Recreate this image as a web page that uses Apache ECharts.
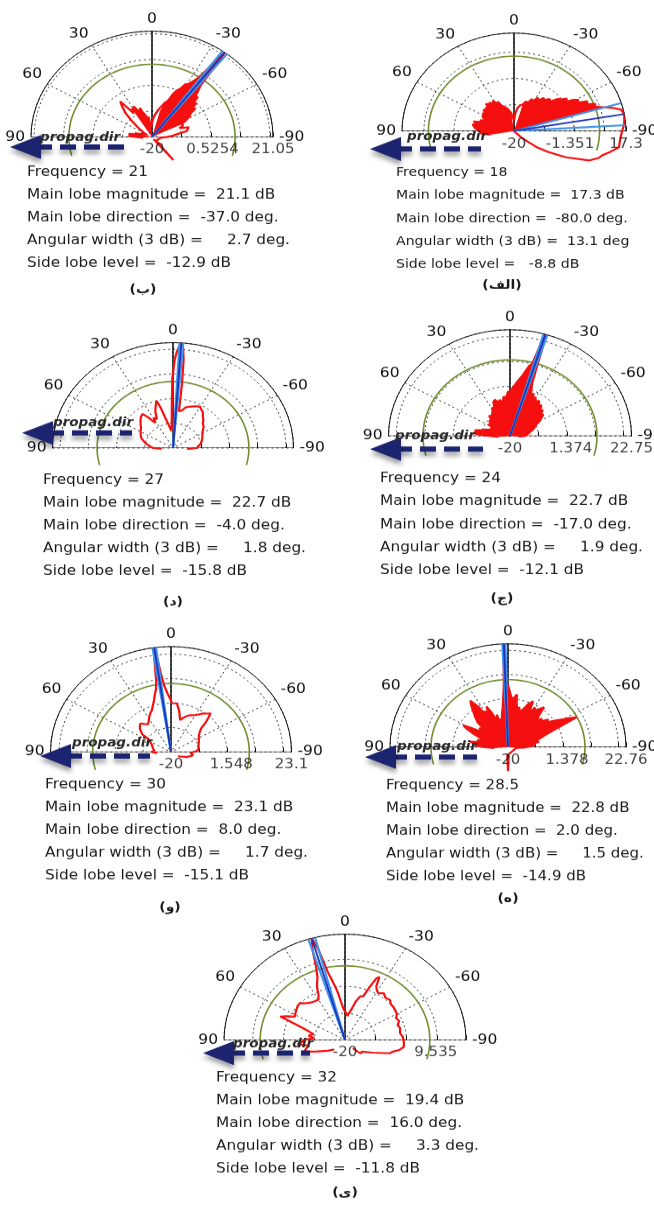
<!DOCTYPE html>
<html>
<head>
<meta charset="utf-8">
<script src="https://cdn.jsdelivr.net/npm/echarts@6.0.0/dist/echarts.min.js"></script>
<style>
html,body{margin:0;padding:0;background:#fff;overflow:hidden;}
#wrap{width:654px;height:1206px;overflow:hidden;position:relative;}
#chart{width:654px;height:1379px;transform:scaleY(0.875);transform-origin:0 0;}
</style>
</head>
<body>
<div id="wrap"><div id="chart"></div></div>
<script>
// ---------------- DATA ----------------
const tags       = ['الف', 'ب', 'ج', 'د', 'ه', 'و', 'ی'];
const frequency  = [18, 21, 24, 27, 28.5, 30, 32];
const mainMag    = [17.3, 21.1, 22.7, 22.7, 22.8, 23.1, 19.4];
const mainDir    = [-80.0, -37.0, -17.0, -4.0, 2.0, 8.0, 16.0];
const beamWidth  = [13.1, 2.7, 1.9, 1.8, 1.5, 1.7, 3.3];
const sideLobe   = [-8.8, -12.9, -12.1, -15.8, -14.9, -15.1, -11.8];
const radMin     = -20;
const radMax     = [17.3, 21.05, 22.75, 22.7, 22.76, 23.1, 19.38];
const radLabels  = [[-20, -1.351, 17.3], [-20, 0.5254, 21.05], [-20, 1.374, 22.75], [], [-20, 1.378, 22.76], [-20, 1.548, 23.1], [-20, 9.535]];

// patterns: [angle (deg), level (dB)]
const patAlef = [[100,-12],[95,-9],[90,-8.5],[85,-7],[80,-6],[77,-7.5],[75,-6],[72,-9],[70,-8],[67,-10],[65,-9],[62,-8],[60,-9],[57,-7.5],[55,-9],[52,-7],[50,-8],[47,-7],[45,-8.5],[42,-6],[40,-7],[37,-6.5],[34,-7.5],[31,-6.5],[28,-9],[26,-7.5],[24,-9],[21,-10],[18,-9.5],[15,-11],[12,-12],[8,-13],[4,-15],[0,-16],[-4,-13],[-8,-11],[-12,-10],[-16,-9.5],[-20,-8],[-23,-8.5],[-26,-6.5],[-29,-7],[-32,-5],[-35,-6],[-38,-4],[-41,-4.5],[-44,-3],[-47,-3.5],[-50,-1],[-53,0],[-55,1.5],[-57,0.5],[-59,3],[-61,4.5],[-63,3.5],[-65,7],[-67,6],[-69,9],[-71,8.5],[-73,11],[-75,14],[-77,16.5],[-80,17.3],[-83,17],[-86,16.8],[-90,16],[-95,15.5],[-100,15.5],[-104,13],[-107,11],[-110,10],[-114,7.5],[-120,0],[-125,-6],[-129,-10],[-135,-16],[-140,-20]];
const patB = [[95,-17],[90,-15],[87,-12],[84,-13.5],[81,-12],[78,-15],[75,-14],[72,-17],[68,-16],[64,-18],[60,-17],[56,-16],[52,-14],[48,-11],[44,-7],[40,-4],[38,-2.5],[36,-6],[34,-9],[32,-7],[30,-8.5],[28,-6.5],[26,-8],[24,-7.5],[22,-9.5],[20,-8],[18,-10],[15,-11],[12,-13],[9,-12],[6,-15],[3,-16],[0,-14.5],[-3,-13],[-6,-11.5],[-9,-12],[-12,-9],[-15,-9.5],[-18,-6],[-21,-5],[-23,-2],[-25,0],[-27,1],[-29,3.5],[-31,4],[-33,6],[-34.5,8],[-35.5,12],[-36.3,18],[-37,21.05],[-37.7,18],[-38.5,11],[-39.5,6],[-41,4],[-43,1.5],[-45,2],[-47,-1],[-49,0],[-51,-3],[-53,-1.5],[-55,-4],[-58,-5],[-61,-7],[-64,-9],[-67,-8.5],[-70,-10],[-73,-7],[-76,-6.5],[-79,-8],[-82,-11],[-86,-13],[-90,-15],[-95,-17],[-135,-18],[-141,-8.5],[-147,-19]];
const patJ = [[95,-16],[90,-13],[87,-9],[85,-7],[82,-8],[79,-7.5],[76,-10],[73,-11],[70,-12.5],[66,-12],[62,-13],[58,-11],[54,-12],[50,-10.5],[46,-11],[42,-9],[38,-10],[35,-9],[32,-8.5],[29,-7],[26,-7.5],[23,-5],[20,-4.5],[17,-6],[14,-5],[11,-6.5],[8,-4],[5,-4.5],[2,-2],[0,-3],[-2,-1],[-4,0],[-6,1.5],[-8,3],[-10,4.5],[-12,7],[-13.5,9],[-15,10],[-16,16],[-17,22.75],[-18,16],[-19,8],[-20,3],[-22,0],[-24,-2],[-26,-1],[-28,-3],[-30,-2],[-33,-3.5],[-36,-2.5],[-39,-4],[-42,-3.5],[-45,-5],[-48,-4.5],[-51,-6],[-54,-5.5],[-57,-7],[-60,-8],[-63,-9.5],[-66,-9],[-70,-11],[-74,-12],[-78,-13],[-82,-12.5],[-86,-14],[-90,-15],[-95,-17]];
const patD = [[95,-16],[90,-13],[86,-12],[82,-11],[78,-10],[74,-9],[70,-8],[66,-7.5],[62,-7],[58,-6.5],[54,-6],[50,-5],[46,-4],[42,-3],[38,-2.5],[35,-5],[32,-8],[29,-6],[26,-7],[23,-4],[20,-2],[17,0],[15,-3],[13,-7],[10,-10],[7,-12],[5,-13],[3,-11],[1.5,-4],[0.5,8],[-1,16],[-2,19],[-3,21],[-4,22.7],[-5,21],[-6,16],[-7,6],[-8,-5],[-10,-5],[-12,-4.4],[-15,-3],[-18,-2.5],[-21,-2],[-24,-1.5],[-27,-1],[-30,-0.8],[-33,-1.5],[-36,-2],[-40,-3.5],[-44,-4.5],[-47,-5.6],[-51,-6],[-55,-7],[-60,-8],[-65,-8.5],[-70,-9],[-75,-9.5],[-80,-10],[-85,-11],[-90,-11.5],[-95,-15]];
const patH = [[95,-15],[90,-11],[87,-8],[84,-10],[81,-6],[78,-10],[75,-8.5],[72,-11],[69,-9],[66,-6],[63,-3],[61,-1.5],[59,-5],[56,-9],[53,-7],[50,-9],[47,-5],[44,-3],[41,-1],[38,1.5],[35.5,3.5],[33,0],[31,-4],[29,-3],[27,-5],[25,-1.5],[23,-4],[21,-7],[19,-9],[17,-6],[15,-10],[13,-8],[11,-9],[9,-6],[7,-4],[5,0],[3.5,5],[2.6,14],[2,22.76],[1.4,14],[0.5,6],[-1,4],[-3,1],[-5,0],[-7,1],[-8.4,2],[-10,-2],[-12,-4],[-14,-3],[-16,-5],[-18,-4],[-20,-3],[-22,-1],[-24,0],[-25.6,1],[-27,-2],[-29,-3.5],[-31,-1],[-33,-2],[-35,-1],[-37,0],[-38.5,1],[-40,-2],[-42,-4],[-44,-5],[-46,-3],[-48,-4],[-50,-3],[-52,-1.5],[-54,-3],[-56,-1],[-58,1],[-60,3],[-62,5.5],[-63.6,7.8],[-65,3],[-67,-2],[-70,-6],[-73,-8],[-76,-10],[-79,-8.5],[-82,-11],[-85,-10],[-88,-12],[-92,-14],[-97,-17],[-175,-17],[-180,-10],[175,-17]];
const patV = [[95,-15],[90,-13],[84,-14],[78,-13.5],[72,-13],[66,-12.5],[61,-11.5],[57,-11],[55,-7.5],[50,-5.5],[46,-4.5],[43,-4],[40,-5],[36,-6],[32,-5],[28,-3.5],[25,-2.5],[22,-1.7],[19,0],[16,2],[14,4],[12,6],[10.5,9],[9.5,14],[8.8,19],[8,23.1],[7.2,18],[6.4,12],[5,7],[3,4],[1,2],[-1,0],[-3,-0.5],[-6,0],[-8,-0.3],[-10,-3],[-12,-5],[-14,-6.5],[-17,-5.5],[-20,-4.5],[-24,-3.5],[-28,-3],[-32,-2],[-36,-0.5],[-40,0.5],[-42,1.2],[-44,-1],[-46,-3],[-48,-5.5],[-52,-7],[-56,-8],[-60,-8.5],[-65,-9],[-71,-9.5],[-77,-10],[-83,-10],[-88,-11],[-93,-13],[-100,-12],[-110,-14],[-125,-17]];
const patY = [[135,-15],[125,-13],[115,-10],[108,-6],[104,-7],[100,-8],[96,-4.5],[93,-6],[90,-6.5],[86,-10],[82,-8],[78,-9.5],[75,-8],[72,-5.5],[70,-5],[68.5,0],[67.5,2.8],[65,1],[62,-1.5],[58,-1],[54,-0.5],[50,0],[47,0.1],[44,-1],[40,-2],[35,-2.5],[30,-2.7],[27,-1],[25,1.5],[23.5,2.8],[21,5],[19,9],[17.5,15],[16,19.4],[14.5,15],[13.5,10],[12.5,6],[11,3],[9,0],[7,-3],[5,-6],[3,-8],[1,-9],[-2,-10],[-5,-11],[-8,-11.3],[-11,-8],[-14,-5],[-17,-3],[-20,-2.7],[-22,1],[-24,5],[-25.5,6],[-27,2.5],[-29,1.3],[-32,0.5],[-36,1.5],[-40,0.5],[-44.6,0.9],[-48,0],[-52,0],[-55.5,-0.3],[-60,-0.5],[-64,-1.5],[-68,-1],[-72,-2],[-76,-1.5],[-82,-1.9],[-86,-1.2],[-90,-1],[-93,-0.8],[-97.5,-0.7],[-102,-2],[-106,-4],[-108.7,-4.6],[-118,-10],[-128,-13],[-135,-12.9],[-140,-16]];
const patterns = [patAlef, patB, patJ, patD, patH, patV, patY];
// angular sectors in which the dense trace appears solid
const fillSectors = [[[5,100],[-74,-15]], [[75,95],[5,32],[-65,-15]], [[-95,95]], [], [[-97,95]], [], []];

// ---------------- LAYOUT ----------------
const S = 0.875; // vertical squash of the original figure
const FONT = '"DejaVu Sans", Verdana, sans-serif';
const RED = '#f50f0f';
const layout = [
  {cx:514, cy:131, r:112,   tx:396, ty:173, lx:502, ly:286, fs:14.1, ar:{tip:370, y:149, end:481, tl:407, ty:137}},
  {cx:152, cy:137, r:121,   tx:27,  ty:172, lx:143, ly:290, fs:15.3, ar:{tip:10,  y:147, end:130, tl:40,  ty:138}},
  {cx:510, cy:436, r:121.5, tx:380, ty:479, lx:502, ly:599, fs:15.3, ar:{tip:370, y:449, end:483, tl:395, ty:436}},
  {cx:173, cy:448, r:120.5, tx:43,  ty:480, lx:173, ly:602, fs:15.3, ar:{tip:22,  y:433, end:132, tl:53,  ty:423}},
  {cx:508, cy:747, r:118,   tx:386, ty:786, lx:508, ly:899, fs:15.0, ar:{tip:365, y:757, end:477, tl:397, ty:747}},
  {cx:171, cy:752, r:120.5, tx:45,  ty:785, lx:170, ly:908, fs:15.3, ar:{tip:40,  y:756, end:150, tl:72,  ty:743}},
  {cx:345, cy:1040, r:121,  tx:216, ty:1078, lx:345, ly:1193, fs:15.3, ar:{tip:203, y:1053, end:310, tl:233, ty:1044}}
];
const LINE = 22.8;
const circleAngles = [];
for (let a = -105; a <= 105; a += 2.5) circleAngles.push(a);

const N = layout.length;
const polarVis = [], polarHid = [], angleAxis = [], radiusAxis = [], series = [], graphic = [];
const f1 = v => v.toFixed(1);
const P = (i, o) => Object.assign({coordinateSystem: 'polar', polarIndex: i, silent: true, animation: false}, o);

layout.forEach((L, i) => {
  const pat = patterns[i];
  const ctr = [L.cx, L.cy / S];
  // visible semicircular frame (polar i)
  polarVis.push({center: ctr, radius: L.r});
  angleAxis.push({
    polarIndex: i, type: 'value', min: -90, max: 90, interval: 30,
    startAngle: 0, endAngle: 180, clockwise: false,
    axisLine: {show: true, lineStyle: {color: '#111', width: 1}},
    axisTick: {show: false},
    axisLabel: {show: true, color: '#111', fontSize: 15.5, fontFamily: FONT, margin: 6},
    splitLine: {show: true, lineStyle: {color: '#333', width: 1, type: [2, 3]}}
  });
  radiusAxis.push({
    polarIndex: i, type: 'value', min: radMin, max: radMax[i], interval: 10,
    axisLine: {show: false}, axisLabel: {show: false},
    axisTick: {show: true, length: 5, lineStyle: {color: '#111'}},
    splitLine: {show: true, lineStyle: {color: '#333', width: 1, type: [2, 3]}}
  });
  // solid frame lines (90, 0, -90 spokes)
  series.push(P(i, {type: 'line', symbol: 'none', z: 3,
    data: [[radMax[i], 90], [radMin, 0], [radMax[i], 0], [radMin, 0], [radMax[i], -90]],
    lineStyle: {color: '#111', width: 1}}));
  // main lobe direction lines
  [mainDir[i] - beamWidth[i] / 2, mainDir[i] + beamWidth[i] / 2].forEach(a => {
    series.push(P(i, {type: 'line', symbol: 'none', z: 6,
      data: [[radMin, a], [radMax[i], a]], lineStyle: {color: '#3d93ee', width: 2.2}}));
  });
  series.push(P(i, {type: 'line', symbol: 'none', z: 7,
    data: [[radMin, mainDir[i]], [radMax[i], mainDir[i]]], lineStyle: {color: '#1f33b5', width: 1.8}}));
  // radial scale labels
  series.push(P(i, {type: 'scatter', symbolSize: 1, z: 8,
    itemStyle: {color: 'rgba(0,0,0,0)'},
    data: radLabels[i].map(v => [v, -90]),
    label: {show: true, position: 'bottom', distance: 7, color: '#111', fontSize: 15, fontFamily: FONT,
      formatter: p => String(p.value[0])}}));

  // hidden full-circle polar (polar N+i, same centre/scale) for traces that dip below the horizon
  const j = N + i;
  polarHid.push({center: ctr, radius: L.r});
  angleAxis.push({polarIndex: j, type: 'value', min: -180, max: 180, startAngle: -90, clockwise: false, show: false});
  radiusAxis.push({polarIndex: j, type: 'value', min: radMin, max: radMax[i], show: false});
  // side-lobe reference circle
  series.push(P(j, {type: 'line', symbol: 'none', clip: false, z: 3,
    data: circleAngles.map(a => [mainMag[i] + sideLobe[i], a]),
    lineStyle: {color: '#6f8f2f', width: 1.6}}));
  // dense parts of the trace
  fillSectors[i].forEach(([a0, a1]) => {
    series.push(P(j, {type: 'line', symbol: 'none', clip: false, z: 4,
      data: pat.filter(p => p[0] >= a0 && p[0] <= a1).map(p => [p[1], p[0]]),
      lineStyle: {width: 0}, areaStyle: {color: RED, opacity: 1, origin: 'start'}}));
  });
  // trace outline
  series.push(P(j, {type: 'line', symbol: 'none', clip: false, z: 5,
    data: pat.map(p => [p[1], p[0]]),
    lineStyle: {color: RED, width: 2.2}}));

  // text block
  const lines = [
    'Frequency = ' + frequency[i],
    'Main lobe magnitude =  ' + f1(mainMag[i]) + ' dB',
    'Main lobe direction =  ' + f1(mainDir[i]) + ' deg.',
    'Angular width (3 dB) = ' + (beamWidth[i] < 10 ? '    ' : ' ') + f1(beamWidth[i]) + (i === 0 ? ' deg' : ' deg.'),
    'Side lobe level = ' + (sideLobe[i] > -10 ? '  ' : ' ') + f1(sideLobe[i]) + ' dB'
  ];
  lines.forEach((t, k) => {
    graphic.push({type: 'text', z: 100, style: {text: t, x: L.tx, y: (L.ty + k * LINE) / S,
      font: L.fs + 'px ' + FONT, fill: '#1a1a1a', verticalAlign: 'middle', textAlign: 'left'}});
  });
  graphic.push({type: 'text', z: 100, style: {text: '(' + tags[i] + ')', x: L.lx, y: L.ly / S,
    font: 'bold 14px ' + FONT, fill: '#1a1a1a', verticalAlign: 'middle', textAlign: 'center'}});

  // propagation direction arrow
  const A = L.ar;
  graphic.push({type: 'line', z: 100, shape: {x1: A.tip + 26, y1: A.y / S, x2: A.end, y2: A.y / S},
    style: {stroke: '#1c2470', lineWidth: 6, lineDash: [16, 8],
      shadowBlur: 5, shadowColor: 'rgba(0,0,0,0.35)', shadowOffsetY: 5}});
  graphic.push({type: 'polygon', z: 101, shape: {points: [[A.tip, A.y / S], [A.tip + 31, (A.y - 12) / S], [A.tip + 31, (A.y + 12) / S]]},
    style: {fill: '#1c2470', shadowBlur: 5, shadowColor: 'rgba(0,0,0,0.35)', shadowOffsetY: 5}});
  graphic.push({type: 'text', z: 102, style: {text: 'propag.dir', x: A.tl, y: A.ty / S,
    font: 'italic bold 13.5px ' + FONT, fill: '#2a2a2a', verticalAlign: 'middle', textAlign: 'left'}});
});

const chart = echarts.init(document.getElementById('chart'), null, {renderer: 'canvas'});
chart.setOption({
  animation: false,
  backgroundColor: '#fff',
  polar: polarVis.concat(polarHid), angleAxis, radiusAxis, series, graphic
});
</script>
</body>
</html>
